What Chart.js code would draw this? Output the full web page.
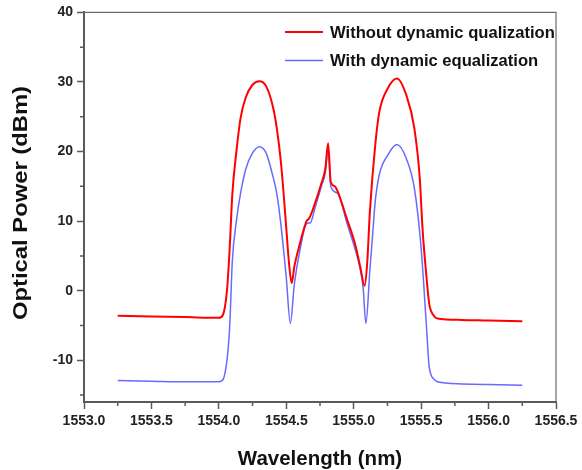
<!DOCTYPE html>
<html>
<head>
<meta charset="utf-8">
<script src="https://cdn.jsdelivr.net/npm/chart.js@4.4.1/dist/chart.umd.min.js"></script>
<style>
  html, body { margin: 0; padding: 0; background: #fff; }
  #wrap { width: 582px; height: 470px; }
</style>
</head>
<body>
<div id="wrap"><canvas id="myChart" width="582" height="470"></canvas></div>
<script>
// SERIES DATA
const redLabel = 'Without dynamic qualization';
const redWl = [1553.25, 1553.5, 1553.75, 1554.0, 1554.03, 1554.06, 1554.08, 1554.1, 1554.13, 1554.16, 1554.2, 1554.25, 1554.3, 1554.35, 1554.4, 1554.43, 1554.46, 1554.48, 1554.5, 1554.52, 1554.54, 1554.56, 1554.6, 1554.65, 1554.67, 1554.71, 1554.76, 1554.79, 1554.81, 1554.83, 1554.86, 1554.88, 1554.95, 1555.01, 1555.05, 1555.08, 1555.1, 1555.12, 1555.16, 1555.19, 1555.25, 1555.32, 1555.39, 1555.45, 1555.49, 1555.51, 1555.54, 1555.56, 1555.59, 1555.62, 1555.8, 1556.0, 1556.25];
const redDb = [-3.6, -3.7, -3.8, -3.9, -3.5, 0, 6, 13.9, 20, 24.7, 27.8, 29.6, 30.1, 29.4, 26.5, 23.3, 18.5, 14, 9, 4, 1.1, 3.5, 6.7, 10, 10.4, 12.4, 15.4, 17.6, 21.2, 15.6, 15, 14.3, 10.3, 6.7, 3.3, 0.7, 4, 11.4, 21, 25.7, 29, 30.5, 28.1, 23.3, 16.1, 9, 1.9, -1.9, -3.5, -4.0, -4.2, -4.3, -4.4];

const blueLabel = 'With dynamic equalization';
const blueWl = [1553.25, 1553.5, 1553.75, 1554.0, 1554.03, 1554.06, 1554.08, 1554.1, 1554.13, 1554.16, 1554.2, 1554.25, 1554.3, 1554.35, 1554.4, 1554.43, 1554.46, 1554.5, 1554.53, 1554.56, 1554.6, 1554.65, 1554.68, 1554.71, 1554.76, 1554.79, 1554.81, 1554.83, 1554.88, 1554.95, 1555.01, 1555.05, 1555.07, 1555.09, 1555.12, 1555.14, 1555.16, 1555.19, 1555.25, 1555.32, 1555.39, 1555.45, 1555.5, 1555.54, 1555.56, 1555.6, 1555.62, 1555.8, 1556.0, 1556.25];
const blueDb = [-12.9, -13, -13.1, -13.1, -12.8, -10, -5.3, 4.3, 10, 13.9, 17.5, 19.8, 20.7, 19.8, 16.5, 13.9, 9.5, 1.9, -4.7, 1, 5.7, 9.6, 9.8, 11.7, 15, 17, 20.5, 15, 14, 9.7, 6, 2.9, 0.4, -4.7, 3, 8, 12.9, 16.7, 19.4, 21, 19, 14.7, 6.1, -5.3, -11, -12.8, -13.1, -13.4, -13.5, -13.6];

// AXIS TICKS
const xTicks = [1553.0, 1553.5, 1554.0, 1554.5, 1555.0, 1555.5, 1556.0, 1556.5];
const xMinor = [1553.25, 1553.75, 1554.25, 1554.75, 1555.25, 1555.75, 1556.25];
const yTicks = [-10, 0, 10, 20, 30, 40];
const yMinor = [-15, -5, 5, 15, 25, 35];
const yTitle = 'Optical Power (dBm)';

const FONT = "'Liberation Sans', Arial, sans-serif";
const AXIS = '#5a5a5a';

const toPoints = (xs, ys) => xs.map((x, i) => ({x: x, y: ys[i]}));

// MINOR TICKS, TOP/RIGHT FRAME, Y TITLE AND LEGEND
const extras = {
    id: 'extras',
    afterDraw(chart) {
        const c = chart.ctx;
        const a = chart.chartArea;
        const xs = chart.scales.x, ys = chart.scales.y;
        c.save();
        // frame top + right
        c.strokeStyle = '#6a6a6a';
        c.lineWidth = 1.2;
        c.beginPath();
        c.moveTo(a.left, a.top); c.lineTo(a.right, a.top); c.lineTo(a.right, a.bottom);
        c.stroke();
        // minor ticks
        c.strokeStyle = AXIS;
        c.lineWidth = 1.5;
        c.beginPath();
        xMinor.forEach(v => { const p = xs.getPixelForValue(v); c.moveTo(p, a.bottom); c.lineTo(p, a.bottom + 4); });
        yMinor.forEach(v => { const p = ys.getPixelForValue(v); c.moveTo(a.left, p); c.lineTo(a.left - 4, p); });
        c.stroke();
        // y title (stretched like the original)
        c.save();
        c.translate(22, 203);
        c.rotate(-Math.PI / 2);
        c.scale(1.22, 1);
        c.font = 'bold 19.5px ' + FONT;
        c.fillStyle = '#111';
        c.textAlign = 'center';
        c.textBaseline = 'middle';
        c.fillText(yTitle, 0, 0);
        c.restore();
        // legend
        c.font = 'bold 16.6px ' + FONT;
        c.textBaseline = 'middle';
        c.fillStyle = '#111';
        chart.data.datasets.forEach((ds, i) => {
            const y = 32 + i * 28.5;
            c.strokeStyle = ds.borderColor;
            c.lineWidth = ds.borderWidth;
            c.beginPath(); c.moveTo(285, y); c.lineTo(323, y); c.stroke();
            c.fillText(ds.label, 330, y + 1);
        });
        c.restore();
    }
};

const ctx = document.getElementById('myChart').getContext('2d');
const chart = new Chart(ctx, {
    type: 'line',
    data: {
        datasets: [{
            label: redLabel,
            data: toPoints(redWl, redDb),
            borderColor: 'rgb(255, 0, 0)',
            borderWidth: 2,
            pointRadius: 0,
            cubicInterpolationMode: 'monotone'
        }, {
            label: blueLabel,
            data: toPoints(blueWl, blueDb),
            borderColor: 'rgb(105, 105, 255)',
            borderWidth: 1.5,
            pointRadius: 0,
            cubicInterpolationMode: 'monotone'
        }]
    },
    options: {
        responsive: false,
        animation: false,
        layout: { padding: { left: 0, top: 11, right: 26, bottom: 0 } },
        plugins: { legend: { display: false }, tooltip: { enabled: false } },
        scales: {
            x: {
                type: 'linear',
                min: 1553.0,
                max: 1556.5,
                afterBuildTicks: s => { s.ticks = xTicks.map(v => ({value: v})); },
                afterFit: s => { s.height = 68; },
                grid: { drawOnChartArea: false, tickLength: 7, tickColor: AXIS, tickWidth: 1.5 },
                border: { color: AXIS, width: 2 },
                ticks: {
                    padding: 4,
                    color: '#222',
                    font: { family: FONT, size: 14, weight: 'bold' },
                    maxRotation: 0,
                    callback: v => Number(v).toFixed(1)
                },
                title: {
                    display: true,
                    text: 'Wavelength (nm)',
                    color: '#111',
                    font: { family: FONT, size: 20.5, weight: 'bold' },
                    padding: { top: 0, bottom: -2 }
                }
            },
            y: {
                min: -16,
                max: 40,
                afterBuildTicks: s => { s.ticks = yTicks.map(v => ({value: v})); },
                afterFit: s => { s.width = 84; },
                grid: { drawOnChartArea: false, tickLength: 7, tickColor: AXIS, tickWidth: 1.5 },
                border: { color: AXIS, width: 2 },
                ticks: {
                    padding: 4,
                    color: '#222',
                    font: { family: FONT, size: 14, weight: 'bold' }
                }
            }
        }
    },
    plugins: [extras]
});
</script>
</body>
</html>
